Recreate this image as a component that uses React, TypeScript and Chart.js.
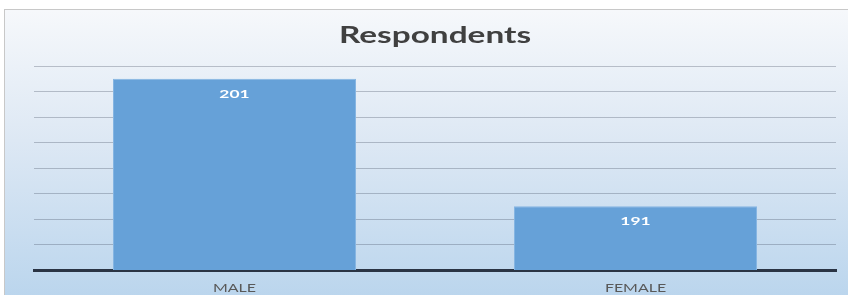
import React, { useEffect, useRef } from "react";
import { Chart, registerables } from "chart.js";

Chart.register(...registerables);

const categories = ["MALE", "FEMALE"];
const respondents = [201, 191];
const titleText = "Respondents";
const yMin = 186;
const yMax = 202;
const yStep = 2;

const FONT = "Lato, 'Open Sans', sans-serif";
const STRETCH = 1.45;

function stretchedText(ctx: any, text: string, x: number, y: number, font: string, color: string) {
  ctx.save();
  ctx.translate(x, y);
  ctx.scale(STRETCH, 1);
  ctx.font = font;
  ctx.fillStyle = color;
  ctx.textAlign = "center";
  ctx.textBaseline = "middle";
  ctx.fillText(text, 0, 0);
  ctx.restore();
}

const textPlugin = {
  id: "textPlugin",
  afterDraw(chart: any) {
    const ctx = chart.ctx;
    const area = chart.chartArea;
    const meta = chart.getDatasetMeta(0);
    const xScale = chart.scales.x;
    // title
    stretchedText(ctx, titleText, (area.left + area.right) / 2, 26, `bold 23px ${FONT}`, "#404040");
    // value labels
    meta.data.forEach((el: any, i: number) => {
      stretchedText(ctx, String(chart.data.datasets[0].data[i]), el.x, el.y + 15, `bold 12px ${FONT}`, "#ffffff");
    });
    // category labels
    chart.data.labels.forEach((lab: string, i: number) => {
      stretchedText(ctx, lab, xScale.getPixelForValue(i), area.bottom + 18, `11px ${FONT}`, "#595959");
    });
  },
};

export default function App() {
  const ref = useRef<HTMLCanvasElement>(null);
  useEffect(() => {
    const chart = new Chart(ref.current!, {
      type: "bar",
      data: {
        labels: categories,
        datasets: [
          {
            label: titleText,
            data: respondents,
            backgroundColor: "#66a1d8",
            borderColor: "#86b5e2",
            borderWidth: 1,
            barPercentage: 0.606,
            categoryPercentage: 1,
          },
        ],
      },
      options: {
        responsive: false,
        animation: false,
        layout: { padding: { left: 29, right: 14, top: 56, bottom: 25 } },
        plugins: {
          legend: { display: false },
          tooltip: { enabled: false },
          title: { display: false },
        },
        scales: {
          x: {
            grid: { display: false, drawTicks: false },
            border: { display: true, color: "#2a3444", width: 3 },
            ticks: { display: false },
          },
          y: {
            min: yMin,
            max: yMax,
            ticks: { display: false, stepSize: yStep },
            grid: { color: "rgba(60,70,90,0.3)", drawTicks: false, lineWidth: 1 },
            border: { display: false },
          },
        },
      },
      plugins: [textPlugin],
    });
    return () => chart.destroy();
  }, []);
  return (
    <div style={{ position: "fixed", left: 0, top: 0, width: 848, height: 295, background: "#ffffff", overflow: "hidden" }}>
      <div
        style={{
          position: "absolute",
          left: 4,
          top: 9,
          width: 846,
          height: 290,
          border: "1px solid #c8c8c8",
          background: "linear-gradient(to bottom, #f6f8fb 0%, #dde8f4 45%, #bad5ed 100%)",
        }}
      >
        <canvas ref={ref} width={845} height={285} style={{ display: "block" }} />
      </div>
    </div>
  );
}
